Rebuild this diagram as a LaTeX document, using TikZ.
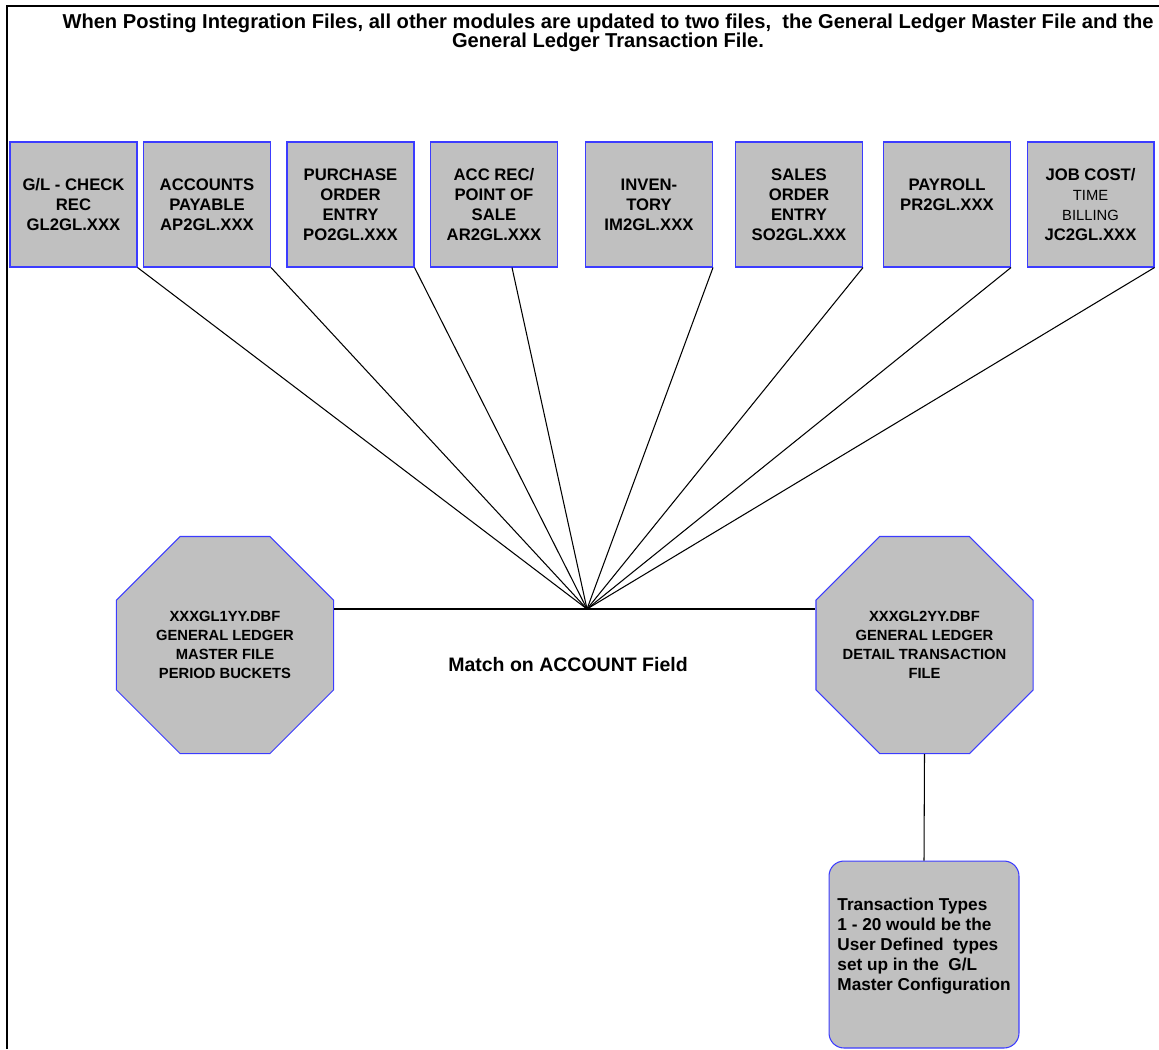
\documentclass[tikz,border=0pt]{standalone}
\usepackage{fontspec}
\setmainfont{Liberation Sans}
\usetikzlibrary{shapes.geometric}

\definecolor{fillgray}{RGB}{192,192,192}
\definecolor{edgeblue}{RGB}{60,60,255}

\tikzset{
    modbox/.style={draw=edgeblue, fill=fillgray, line width=0.6pt,
        minimum width=2.54cm, minimum height=2.5cm, inner sep=1pt, align=center,
        font=\fontsize{9.5}{11.3}\selectfont\bfseries},
    filebox/.style={regular polygon, regular polygon sides=8, draw=edgeblue,
        fill=fillgray, line width=0.6pt, minimum size=4.7cm, inner sep=0pt},
    filetext/.style={align=center, inner sep=0pt, font=\fontsize{8.4}{10.8}\selectfont\bfseries},
    notebox/.style={draw=edgeblue, fill=fillgray, line width=0.6pt,
        rounded corners=0.3cm, minimum width=3.8cm, minimum height=3.74cm, inner sep=0pt},
    notetext/.style={align=left, inner sep=0pt, font=\fontsize{9.8}{11.3}\selectfont\bfseries},
    link/.style={black, line width=0.6pt}
}

\begin{document}
\begin{tikzpicture}[x=0.02cm, y=-0.02cm]
    \newcommand{\rowy}{204.5}
    \newcommand{\thin}{\fontsize{8.4}{11.3}\selectfont\mdseries}

    \useasboundingbox (0,0) rectangle (1159,1049);

    % Frame
    \draw[line width=1.4pt] (7,1049) -- (7,6) -- (1159,6);

    % Heading
    \node[align=center, font=\fontsize{11.45}{10.8}\selectfont\bfseries] (title) at (608,33)
        {When Posting Integration Files, all other modules are updated to two files,\ \ the General Ledger Master File and the\\
         General Ledger Transaction File.};

    % Module integration files
    \node[modbox] (gl) at (73.5,\rowy) {G/L - CHECK\\REC\\GL2GL.XXX};
    \node[modbox] (ap) at (207,\rowy) {ACCOUNTS\\PAYABLE\\AP2GL.XXX};
    \node[modbox] (po) at (350.5,\rowy) {PURCHASE\\ORDER\\ENTRY\\PO2GL.XXX};
    \node[modbox] (ar) at (494,\rowy) {ACC REC/\\POINT OF\\SALE\\AR2GL.XXX};
    \node[modbox] (im) at (649,\rowy) {INVEN-\\TORY\\IM2GL.XXX};
    \node[modbox] (so) at (799,\rowy) {SALES\\ORDER\\ENTRY\\SO2GL.XXX};
    \node[modbox] (pr) at (947,\rowy) {PAYROLL\\PR2GL.XXX\\\mbox{}};
    \node[modbox] (jc) at (1090.5,\rowy) {JOB COST/\\{\thin TIME}\\{\thin BILLING}\\JC2GL.XXX};

    % General ledger files
    \node[filebox] (master) at (225,645) {};
    \node[filetext] (mastertext) at (master.center) {XXXGL1YY.DBF\\GENERAL LEDGER\\MASTER FILE\\PERIOD BUCKETS};
    \node[filebox] (detail) at (924.5,645) {};
    \node[filetext] (detailtext) at (detail.center) {XXXGL2YY.DBF\\GENERAL LEDGER\\DETAIL TRANSACTION\\FILE};
    \node[notebox] (types) at (924,954.5) {};
    \node[notetext] (typestext) at ([yshift=0.17cm]types.center)
        {Transaction Types\\1 - 20 would be the\\User Defined\ \ types\\set up in the\ \ G/L\\Master Configuration};

    \node[font=\fontsize{11.1}{12}\selectfont\bfseries] (match) at (568,665) {Match on ACCOUNT Field};

    % Connectors
    \coordinate (hub) at (587,609);
    \foreach \m in {gl,ap,po,im,so,pr,jc} {
        \draw[link] (\m.south east) -- (hub);
    }
    \draw[link] ([xshift=0.36cm]ar.south) -- (hub);
    \draw[link] (hub -| master.east) -- (hub) -- (hub -| detail.west);
    \draw[link] (detail.south) -- (types.north);
\end{tikzpicture}
\end{document}
